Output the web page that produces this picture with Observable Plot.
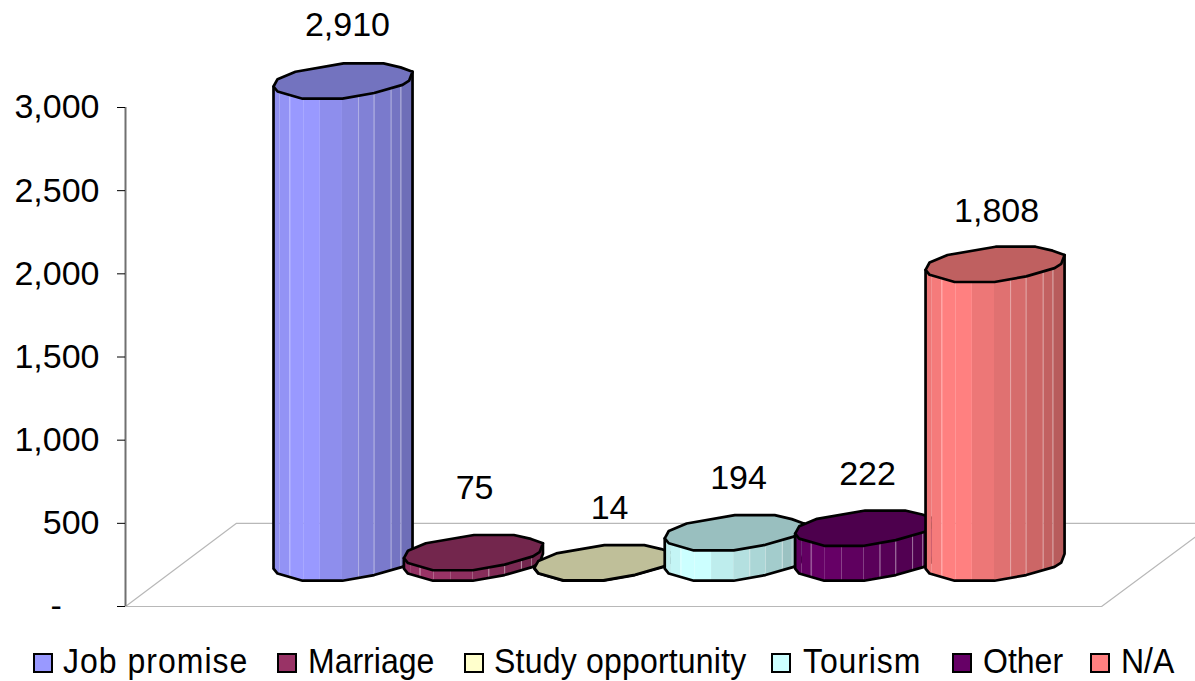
<!DOCTYPE html>
<html><head><meta charset="utf-8">
<style>
html,body{margin:0;padding:0;background:#fff;overflow:hidden}
#legend{position:relative;height:41px;width:1195px;font-family:"Liberation Sans",Arial,sans-serif;color:#000}
#legend .sw{position:absolute;top:13px;width:16px;height:16px;border:2.5px solid #000;box-sizing:content-box}
#legend .lb{position:absolute;top:2px;font-size:32px;line-height:38px;white-space:nowrap;transform:scaleY(1.07);transform-origin:center}
</style>
<script src="https://cdn.jsdelivr.net/npm/d3@7"></script>
<script src="https://cdn.jsdelivr.net/npm/@observablehq/plot@0.6"></script>
</head><body>
<div id="chart"></div><div id="legend"></div>
<script>
// Data
const categories = ["Job promise","Marriage","Study opportunity","Tourism","Other","N/A"];
const values = [2910,75,14,194,222,1808];
const yTicks = [0,500,1000,1500,2000,2500,3000];

// Style
const colors = ["#9999FF","#993366","#FFFFCC","#CCFFFF","#660066","#FF8080"];
const font = '"Liberation Sans",Arial,sans-serif';

// Cylinder geometry, in chart units
const barWidth = 1.066, rimDepth = 212, baseValue = 155, capInset = 12;
const rimAcross = [0,.029,.158,.504,.791,.914,1,.976,.928,.724,.496,.209,.029,0];
const rimUp     = [.345,.552,.765,1,1,.888,.765,.513,.392,.16,0,0,.204,.345];
const frontAcross = [0,.029,.209,.496,.724,.928,.976,1];
const frontUp     = [.345,.204,0,0,.16,.392,.513,.765];
const bandEdges  = [0,.048,.116,.217,.337,.496,.612,.725,.85,.918,1];
const bandShades = [.93,.96,1,1,.93,.88,.84,.8,.76,.72];
const seams = [.118,.612,.725,.845,.918];
const labelLift = [38,47,37,37,36,36]; // px above the cap's back edge
const labelAcross = [.532,.508,.541,.531,.521,.511];
const unitsPerPx = 3000/499;

const frontAt = d3.scaleLinear().domain(frontAcross).range(frontUp);
const shade = (c,k)=>{const r=d3.rgb(c);return d3.rgb(r.r*k,r.g*k,r.b*k).formatHex();};
const topOf = i => baseValue + values[i] - capInset;

function sideRows(i){
  const rows=[];
  bandShades.forEach((k,b)=>{
    const a=bandEdges[b], e=bandEdges[b+1];
    const fs=[a,...frontAcross.filter(f=>f>a&&f<e),e];
    for(const f of fs) rows.push({band:b,x:i+f*barWidth,
      y1:baseValue+frontAt(f)*rimDepth,y2:topOf(i)+frontAt(f)*rimDepth,shade:shade(colors[i],k)});
  });
  return rows;
}
function outlineRows(i){
  const pts=[];
  frontAcross.forEach((f,j)=>pts.push({x:i+f*barWidth,y:baseValue+frontUp[j]*rimDepth}));
  pts.push({x:i+barWidth,y:topOf(i)+frontAt(1)*rimDepth});
  pts.push({x:i,y:topOf(i)+frontAt(0)*rimDepth});
  pts.push(pts[0]);
  return pts;
}
const capRows = i => rimAcross.map((f,j)=>({x:i+f*barWidth,y:topOf(i)+rimUp[j]*rimDepth}));

const barMarks = categories.flatMap((c,i)=>[
  Plot.areaY(sideRows(i),{x:"x",y1:"y1",y2:"y2",z:"band",fill:"shade"}),
  Plot.ruleX(seams,{x:f=>i+f*barWidth,y1:f=>baseValue+frontAt(f)*rimDepth,y2:f=>topOf(i)+frontAt(f)*rimDepth,stroke:"#fff",strokeOpacity:.35,strokeWidth:1}),
  Plot.line(outlineRows(i),{x:"x",y:"y",stroke:"#000",strokeWidth:2.7,strokeLinejoin:"round"}),
  Plot.line(capRows(i),{x:"x",y:"y",fill:shade(colors[i],.75),stroke:"#000",strokeWidth:2.7,strokeLinejoin:"round"})
]);

const labelRows = values.map((v,i)=>({x:i+labelAcross[i]*barWidth,y:topOf(i)+rimDepth+labelLift[i]*unitsPerPx,text:d3.format(",")(v)}));

const plot = Plot.plot({
  width:1195,height:640,
  marginLeft:125,marginRight:0,marginTop:107,marginBottom:34,
  x:{domain:[-1.135,7.07],axis:null},
  y:{domain:[0,3000]},
  style:{fontFamily:font,background:"#fff",color:"#000",overflow:"visible"},
  marks:[
    Plot.line([{x:-1.135,y:0},{x:6.35,y:0},{x:7.21,y:500},{x:-.284,y:500},{x:-1.135,y:0}],{x:"x",y:"y",stroke:"#b8b8b8",strokeWidth:1.2}),
    Plot.ruleX([-1.135],{y1:0,y2:3000,stroke:"#707070",strokeWidth:2}),
    Plot.axisY({ticks:yTicks,tickSize:8,tickPadding:18,fontSize:34,label:null,
      tickFormat:d=>d===0?"-\u00a0\u00a0\u00a0\u00a0":d3.format(",")(d)}),
    ...barMarks,
    Plot.text(labelRows,{x:"x",y:"y",text:"text",fontSize:34,fill:"#000"})
  ]
});
document.getElementById("chart").appendChild(plot);
plot.style.display="block";

// Legend
const swatchLeft=[33,277,464,771,952,1090];
const textLeft=[63,308,494,803,983,1121];
const spacing=[1,0,.2,.9,0,0];
const lg=document.getElementById("legend");
categories.forEach((c,i)=>{
  const s=document.createElement("div");s.className="sw";s.style.left=swatchLeft[i]+"px";s.style.background=colors[i];lg.appendChild(s);
  const t=document.createElement("div");t.className="lb";t.style.left=textLeft[i]+"px";t.style.letterSpacing=spacing[i]+"px";t.textContent=c;lg.appendChild(t);
});
</script>
</body></html>
